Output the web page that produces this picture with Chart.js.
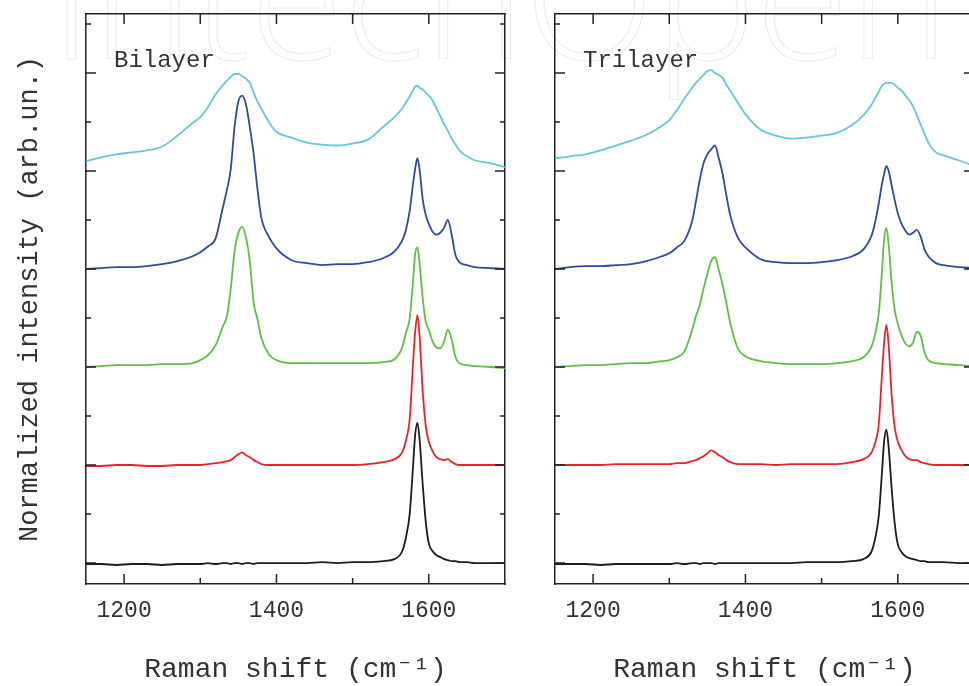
<!DOCTYPE html>
<html>
<head>
<meta charset="utf-8">
<script src="https://cdn.jsdelivr.net/npm/chart.js@4.4.0/dist/chart.umd.min.js"></script>
<style>
  html, body { margin: 0; padding: 0; background: #fff; overflow: hidden; }
  body { width: 969px; height: 686px; position: relative; }
  .panel { position: absolute; top: 0; }
  #bilayer { left: 0; }
  #trilayer { left: 469px; }
  .watermark {
    position: absolute; left: 50px; top: -92px;
    font: 300 170px "Open Sans", sans-serif; line-height: 1;
    color: transparent; -webkit-text-stroke: 1.2px #ededed;
    white-space: nowrap;
  }
</style>
</head>
<body>
<div class="watermark">IntechOpen</div>
<canvas id="bilayer" class="panel" width="520" height="686"></canvas>
<canvas id="trilayer" class="panel" width="520" height="686"></canvas>
<script>
// Raman shift grid (cm-1), denser around the D and G bands
const ramanShift = [1150,1170,1190,1210,1230,1250,1270,1290,1300,1310,1320,1330,1335,1340,1345,1350,1355,1360,1365,1370,1375,1380,1390,1400,1420,1440,1460,1480,1500,1520,1540,
  1555,1565,1570,1575,1579,1582,1585,1588,1592,1596,1600,1605,1610,1615,1620,1625,1630,1635,1640,
  1650,1660,1680,1700];

// normalized intensity, each spectrum already stacked by one unit
const bilayerBlack = [-0.01,-0.01,-0.02,-0.01,-0.01,-0.02,-0.01,-0.01,-0.01,0.00,-0.01,0.00,0.00,-0.01,0.00,0.00,-0.01,0.00,0.00,-0.01,0.00,0.00,0.00,0.00,0.00,0.00,0.01,0.00,0.01,0.01,0.02,
  0.04,0.12,0.26,0.51,0.95,1.30,1.43,1.25,0.80,0.42,0.20,0.12,0.08,0.06,0.04,0.03,0.02,0.02,0.01,
  0.01,0.00,0.00,0.00];
const bilayerRed = [0.99,0.99,1.00,1.00,0.99,0.99,1.00,1.00,1.00,1.01,1.02,1.03,1.04,1.05,1.08,1.11,1.13,1.10,1.08,1.05,1.03,1.01,1.00,1.00,1.00,1.00,1.00,1.00,1.00,1.01,1.03,
  1.06,1.13,1.25,1.48,2.00,2.35,2.53,2.30,1.75,1.40,1.24,1.14,1.08,1.06,1.05,1.06,1.03,1.01,1.00,
  1.00,1.00,1.00,1.00];
const bilayerGreen = [2.00,2.01,2.02,2.02,2.02,2.03,2.03,2.04,2.07,2.12,2.22,2.42,2.52,2.80,3.18,3.37,3.43,3.32,3.08,2.66,2.49,2.30,2.13,2.07,2.04,2.04,2.04,2.04,2.04,2.04,2.05,
  2.08,2.20,2.35,2.50,2.85,3.15,3.22,3.05,2.70,2.46,2.38,2.26,2.20,2.19,2.26,2.38,2.28,2.10,2.04,
  2.02,2.01,2.00,1.99];
const bilayerBlue = [3.00,3.01,3.02,3.02,3.03,3.05,3.08,3.13,3.17,3.23,3.31,3.64,3.81,4.02,4.45,4.71,4.77,4.68,4.45,4.18,3.82,3.53,3.33,3.21,3.09,3.06,3.04,3.05,3.05,3.07,3.11,
  3.18,3.29,3.40,3.60,3.85,4.02,4.13,4.01,3.71,3.55,3.46,3.38,3.35,3.37,3.42,3.50,3.35,3.14,3.07,
  3.04,3.02,3.01,3.00];
const bilayerCyan = [4.10,4.14,4.17,4.19,4.21,4.25,4.36,4.49,4.55,4.65,4.78,4.88,4.92,4.96,4.99,4.99,4.97,4.94,4.90,4.80,4.71,4.64,4.50,4.40,4.34,4.29,4.27,4.26,4.28,4.32,4.45,
  4.55,4.64,4.70,4.76,4.82,4.86,4.87,4.85,4.83,4.80,4.77,4.72,4.64,4.56,4.48,4.41,4.33,4.27,4.21,
  4.15,4.11,4.08,4.04];

const trilayerBlack = [-0.01,-0.01,-0.01,-0.02,-0.01,-0.01,-0.01,-0.01,-0.01,0.00,-0.01,0.00,0.00,-0.01,0.00,0.00,0.00,-0.01,0.00,0.00,0.00,0.00,0.00,0.00,0.00,0.00,0.00,0.01,0.01,0.01,0.02,
  0.04,0.11,0.24,0.48,0.90,1.24,1.36,1.18,0.75,0.40,0.19,0.11,0.07,0.05,0.04,0.03,0.02,0.02,0.01,
  0.01,0.01,0.00,0.00];
const trilayerRed = [1.00,1.00,1.00,1.00,1.01,1.01,1.01,1.01,1.01,1.02,1.02,1.04,1.05,1.07,1.09,1.12,1.15,1.13,1.10,1.08,1.05,1.03,1.01,1.01,1.01,1.00,1.01,1.01,1.01,1.01,1.03,
  1.06,1.12,1.22,1.42,1.90,2.25,2.43,2.22,1.70,1.38,1.24,1.15,1.09,1.06,1.05,1.05,1.03,1.02,1.01,
  1.00,1.00,1.00,1.00];
const trilayerGreen = [2.00,2.01,2.02,2.02,2.03,2.04,2.04,2.06,2.07,2.10,2.16,2.38,2.52,2.63,2.80,2.95,3.08,3.12,2.99,2.84,2.65,2.45,2.19,2.11,2.06,2.04,2.03,2.03,2.03,2.04,2.06,
  2.10,2.20,2.33,2.55,2.95,3.30,3.42,3.25,2.85,2.58,2.44,2.32,2.24,2.21,2.25,2.36,2.32,2.15,2.07,
  2.04,2.03,2.02,2.01];
const trilayerBlue = [3.00,3.02,3.03,3.03,3.04,3.05,3.08,3.13,3.16,3.22,3.29,3.49,3.69,3.91,4.08,4.17,4.22,4.26,4.13,3.97,3.75,3.55,3.32,3.22,3.10,3.07,3.06,3.06,3.07,3.09,3.13,
  3.20,3.33,3.47,3.67,3.86,3.97,4.05,4.00,3.85,3.70,3.57,3.46,3.39,3.35,3.37,3.40,3.33,3.20,3.13,
  3.06,3.04,3.02,3.01];
const trilayerCyan = [4.13,4.15,4.17,4.21,4.26,4.31,4.37,4.46,4.52,4.62,4.74,4.85,4.90,4.94,4.98,5.02,5.03,5.00,4.98,4.95,4.88,4.82,4.70,4.58,4.42,4.36,4.33,4.34,4.36,4.39,4.47,
  4.57,4.67,4.74,4.81,4.87,4.89,4.90,4.90,4.90,4.88,4.85,4.82,4.77,4.72,4.66,4.57,4.47,4.38,4.29,
  4.19,4.16,4.11,4.05];

const xTickValues = [1200, 1300, 1400, 1500, 1600];
const yTickValues = [0, 0.5, 1, 1.5, 2, 2.5, 3, 3.5, 4, 4.5, 5, 5.5];
const lineColors = ['#1c1c1c', '#ec2227', '#63bd44', '#2d4b9f', '#63c7d9'];

const textFont = '"Liberation Mono", "DejaVu Sans Mono", monospace';
const textColor = '#333';

// ticks point inward, long on major values, short on minor ones
const innerTicks = {
  id: 'innerTicks',
  afterDraw(chart) {
    const { ctx, chartArea: a, scales } = chart;
    ctx.save();
    ctx.strokeStyle = '#222';
    ctx.lineWidth = 1.5;
    ctx.beginPath();
    scales.x.ticks.forEach(t => {
      const px = scales.x.getPixelForValue(t.value);
      ctx.moveTo(px, a.bottom);
      ctx.lineTo(px, a.bottom - (t.value % 200 === 0 ? 10 : 6));
      ctx.moveTo(px, a.top);
      ctx.lineTo(px, a.top + 10);
    });
    scales.y.ticks.forEach(t => {
      const py = scales.y.getPixelForValue(t.value);
      const len = Number.isInteger(t.value) ? 10 : 5;
      ctx.moveTo(a.left, py);
      ctx.lineTo(a.left + len, py);
      ctx.moveTo(a.right, py);
      ctx.lineTo(a.right - len, py);
    });
    ctx.stroke();
    ctx.restore();
  }
};

const panelLabel = {
  id: 'panelLabel',
  afterDraw(chart, args, opts) {
    const { ctx, chartArea: a } = chart;
    ctx.save();
    ctx.font = '24px ' + textFont;
    ctx.fillStyle = textColor;
    ctx.textBaseline = 'alphabetic';
    ctx.fillText(opts.text, a.left + 28, a.top + 53);
    ctx.restore();
  }
};

function makePanel(id, label, series, showYTitle) {
  const frame = { display: true, color: '#222', width: 1.5 };
  new Chart(document.getElementById(id), {
    type: 'line',
    data: {
      datasets: series.map((vals, i) => ({
        data: ramanShift.map((x, j) => ({ x: x, y: vals[j] })),
        borderColor: lineColors[i],
        borderWidth: 1.8,
        pointRadius: 0,
        cubicInterpolationMode: 'monotone'
      }))
    },
    options: {
      responsive: false,
      animation: false,
      layout: { padding: { left: 0, right: 15, top: 14, bottom: 0 } },
      plugins: {
        legend: { display: false },
        tooltip: { enabled: false },
        panelLabel: { text: label }
      },
      scales: {
        x: {
          type: 'linear', position: 'bottom', min: 1150, max: 1700,
          afterBuildTicks: s => { s.ticks = xTickValues.map(v => ({ value: v })); },
          afterFit: s => { s.height = 102; },
          grid: { display: false, drawTicks: false },
          border: frame,
          ticks: {
            autoSkip: false, maxRotation: 0, padding: 13, color: textColor,
            font: { family: textFont, size: 23 },
            callback: v => (v % 200 === 0 ? String(v) : '')
          },
          title: {
            display: true, text: 'Raman shift (cm\u207B\u00B9)', color: textColor,
            font: { family: textFont, size: 28 }, padding: { top: 0, bottom: 0 }
          }
        },
        x2: {
          type: 'linear', position: 'top', min: 1150, max: 1700,
          afterFit: s => { s.height = 0; },
          grid: { display: false, drawTicks: false },
          border: frame,
          ticks: { display: false }
        },
        y: {
          type: 'linear', position: 'left', min: -0.214, max: 5.602,
          afterBuildTicks: s => { s.ticks = yTickValues.map(v => ({ value: v })); },
          afterFit: s => { s.width = 86; },
          grid: { display: false, drawTicks: false },
          border: frame,
          ticks: { display: false },
          title: {
            display: showYTitle, text: 'Normalized intensity (arb.un.)', color: textColor,
            font: { family: textFont, size: 27 }, padding: { top: 14, bottom: 0 }
          }
        },
        y2: {
          type: 'linear', position: 'right', min: -0.214, max: 5.602,
          afterFit: s => { s.width = 0; },
          grid: { display: false, drawTicks: false },
          border: frame,
          ticks: { display: false }
        }
      }
    },
    plugins: [innerTicks, panelLabel]
  });
}

makePanel('bilayer', 'Bilayer',
  [bilayerBlack, bilayerRed, bilayerGreen, bilayerBlue, bilayerCyan], true);
makePanel('trilayer', 'Trilayer',
  [trilayerBlack, trilayerRed, trilayerGreen, trilayerBlue, trilayerCyan], false);
</script>
</body>
</html>
